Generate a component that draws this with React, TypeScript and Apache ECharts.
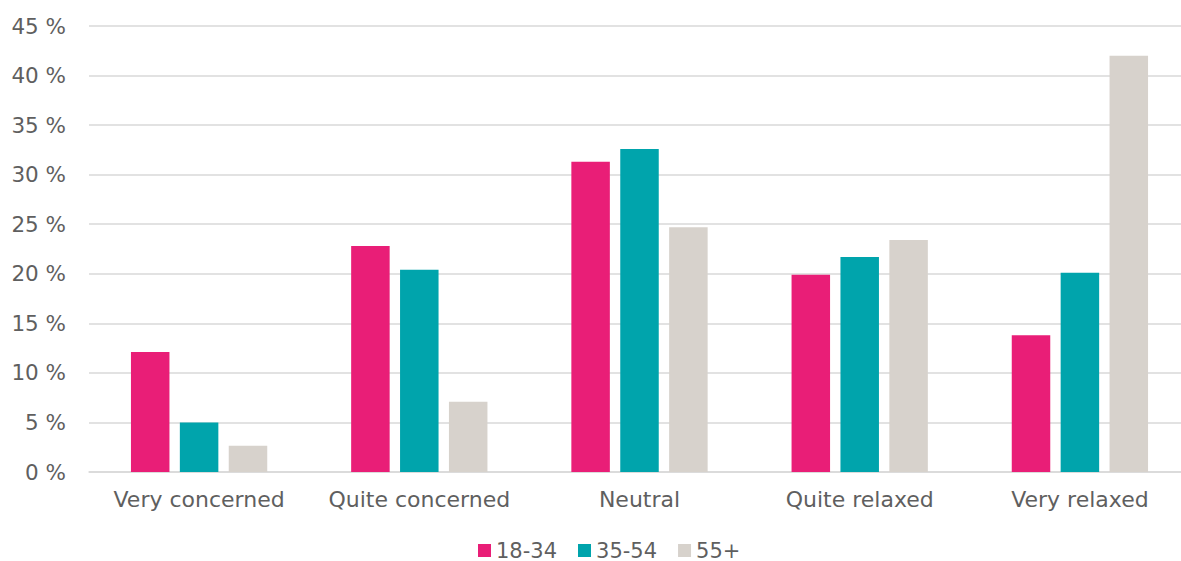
import React, { useEffect, useRef } from "react";
import * as echarts from "echarts";

const categories = ["Very concerned", "Quite concerned", "Neutral", "Quite relaxed", "Very relaxed"];
const seriesNames = ["18-34", "35-54", "55+"];
const age18to34 = [12.1, 22.8, 31.3, 19.9, 13.8];
const age35to54 = [5.0, 20.4, 32.6, 21.7, 20.1];
const age55plus = [2.65, 7.1, 24.7, 23.4, 42.0];
const colors = ["#E91E77", "#00A4AC", "#D7D2CC"];

const FONT = "'DejaVu Sans', sans-serif";
const TEXT = "#5f5f5f";

export default function App() {
  const ref = useRef<HTMLDivElement>(null);

  useEffect(() => {
    if (!ref.current) return;
    const chart = echarts.init(ref.current, null, { renderer: "svg" });
    const values = [age18to34, age35to54, age55plus];
    chart.setOption({
      animation: false,
      grid: {
        left: 89,
        top: 26,
        width: 1101,
        bottom: 89,
        containLabel: false,
        outerBoundsMode: "none",
      },
      legend: {
        left: 478,
        top: 540,
        padding: 0,
        itemWidth: 13,
        itemHeight: 13,
        itemGap: 21,
        icon: "rect",
        textStyle: { color: TEXT, fontSize: 21, fontFamily: FONT },
        data: seriesNames,
      },
      xAxis: {
        type: "category",
        data: categories,
        axisLine: { show: true, lineStyle: { color: "#D9D9D9", width: 1.5 } },
        axisTick: { show: false },
        axisLabel: {
          color: TEXT,
          fontSize: 22,
          fontFamily: FONT,
          margin: 16,
          interval: 0,
          hideOverlap: false,
        },
      },
      yAxis: {
        type: "value",
        min: 0,
        max: 45,
        interval: 5,
        axisLine: { show: false },
        axisTick: { show: false },
        splitLine: { lineStyle: { color: "#D9D9D9", width: 1.5 } },
        axisLabel: {
          color: TEXT,
          fontSize: 21.5,
          fontFamily: FONT,
          margin: 23,
          formatter: (v: number) => `${v} %`,
        },
      },
      series: seriesNames.map((name, i) => ({
        name,
        type: "bar",
        data: values[i],
        barWidth: 38.5,
        barGap: "27%",
        itemStyle: { color: colors[i] },
      })),
    });
    return () => chart.dispose();
  }, []);

  return (
    <div
      ref={ref}
      style={{ position: "fixed", left: 0, top: 0, width: 1181, height: 561, background: "#fff" }}
    />
  );
}
